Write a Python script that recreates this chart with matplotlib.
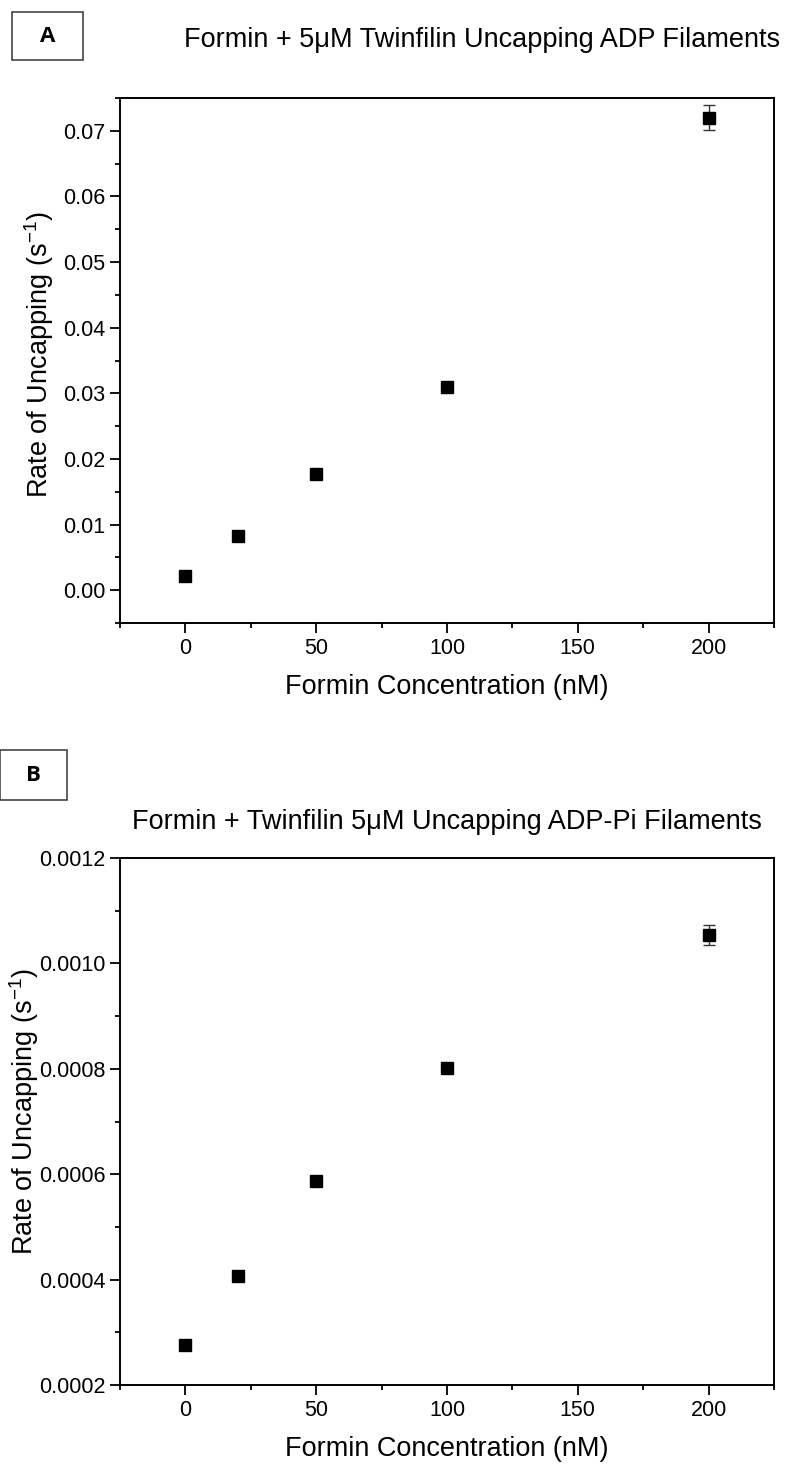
import matplotlib
matplotlib.use('Agg')
import matplotlib.pyplot as plt
from matplotlib.ticker import MultipleLocator, FormatStrFormatter
from matplotlib.patches import Rectangle

# Formin concentrations (nM)
formin_nM = [0, 20, 50, 100, 200]

# Panel A: ADP filaments
rate_adp = [0.0022, 0.0082, 0.0177, 0.0310, 0.0720]
err_adp = [0.0002, 0.0002, 0.0003, 0.0004, 0.0019]

# Panel B: ADP-Pi filaments
rate_adppi = [0.000276, 0.000406, 0.000588, 0.000801, 0.001054]
err_adppi = [0.000003, 0.000004, 0.000005, 0.000006, 0.000019]

title_a = 'Formin + 5\u03bcM Twinfilin Uncapping ADP Filaments'
title_b = 'Formin + Twinfilin 5\u03bcM Uncapping ADP-Pi Filaments'
xlabel = 'Formin Concentration (nM)'
ylabel = 'Rate of Uncapping (s$^{-1}$)'

plt.rcParams['font.family'] = ['Liberation Sans', 'DejaVu Sans']
plt.rcParams['mathtext.fontset'] = 'custom'
plt.rcParams['mathtext.rm'] = 'Liberation Sans'

W, H = 786, 1469
fig = plt.figure(figsize=(W / 100, H / 100), dpi=100)


def px_axes(left, top, right, bottom):
    return fig.add_axes([left / W, 1 - bottom / H, (right - left) / W, (bottom - top) / H])


def style(ax):
    for s in ax.spines.values():
        s.set_linewidth(1.4)
    ax.tick_params(which='major', direction='out', length=7, width=1.3, labelsize=15.5)
    ax.tick_params(which='minor', direction='out', length=3.6, width=1.3)
    ax.set_xlim(-25, 225)
    ax.xaxis.set_major_locator(MultipleLocator(50))
    ax.xaxis.set_minor_locator(MultipleLocator(25))
    ax.set_xlabel(xlabel, fontsize=19.5, labelpad=11)


ax1 = px_axes(120, 98, 774, 623)
ax1.errorbar(formin_nM, rate_adp, yerr=err_adp, fmt='s', color='black', ms=8.6,
             ecolor='#333333', elinewidth=1, capsize=4, capthick=1)
style(ax1)
ax1.set_ylim(-0.005, 0.075)
ax1.yaxis.set_major_locator(MultipleLocator(0.01))
ax1.yaxis.set_minor_locator(MultipleLocator(0.005))
ax1.yaxis.set_major_formatter(FormatStrFormatter('%.2f'))

ax2 = px_axes(120, 858, 774, 1385)
ax2.errorbar(formin_nM, rate_adppi, yerr=err_adppi, fmt='s', color='black', ms=8.6,
             ecolor='#333333', elinewidth=1, capsize=4, capthick=1)
style(ax2)
ax2.set_ylim(0.0002, 0.0012)
ax2.yaxis.set_major_locator(MultipleLocator(0.0002))
ax2.yaxis.set_minor_locator(MultipleLocator(0.0001))
ax2.yaxis.set_major_formatter(FormatStrFormatter('%.4f'))

# titles and y labels placed by hand, as in the reference
fig.text(482 / W, 1 - 40 / H, title_a, fontsize=19.5, ha='center', va='center')
fig.text(447 / W, 1 - 822 / H, title_b, fontsize=19.5, ha='center', va='center')
fig.text(39 / W, 1 - 355 / H, ylabel, fontsize=19.5, rotation=90, ha='center', va='center')
fig.text(24 / W, 1 - 1112 / H, ylabel, fontsize=19.5, rotation=90, ha='center', va='center')

# boxed panel letters
for (x0, y0, x1, y1, letter) in [(12, 12, 83, 60, 'A'), (0, 750, 67, 800, 'B')]:
    fig.patches.append(Rectangle((x0 / W, 1 - y1 / H), (x1 - x0) / W, (y1 - y0) / H,
                                 transform=fig.transFigure, fill=False,
                                 edgecolor='#444444', linewidth=1.2))
    fig.text((x0 + x1) / 2 / W, 1 - (y0 + y1) / 2 / H, letter, fontsize=16,
             fontweight='bold', ha='center', va='center', family=['Open Sans', 'DejaVu Sans'])

fig.savefig('out.png', dpi=100)
